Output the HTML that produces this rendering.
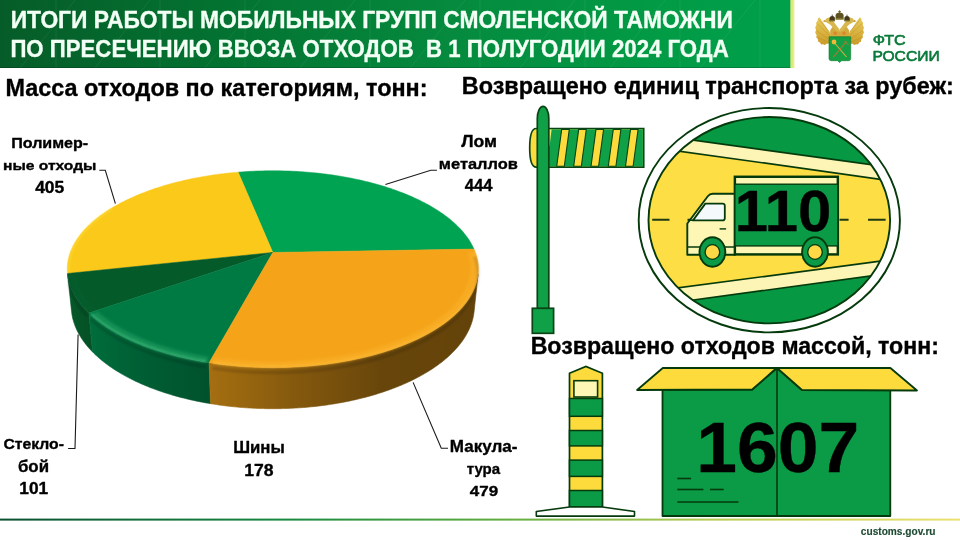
<!DOCTYPE html>
<html><head><meta charset="utf-8"><title>Итоги работы мобильных групп</title>
<style>html,body{margin:0;padding:0;background:#fff;width:960px;height:540px;overflow:hidden;} svg{display:block;} text{font-kerning:normal;}</style>
</head><body>
<svg width="960" height="540" viewBox="0 0 960 540">
<rect width="960" height="540" fill="#fff"/>

<defs>
 <linearGradient id="hdr" x1="0" y1="0" x2="1" y2="0">
  <stop offset="0" stop-color="#065c28"/><stop offset="0.253" stop-color="#037030"/><stop offset="0.57" stop-color="#058a3e"/><stop offset="0.82" stop-color="#029a45"/><stop offset="1" stop-color="#00a04b"/>
 </linearGradient>
 <linearGradient id="btm" x1="0" y1="0" x2="1" y2="0">
  <stop offset="0" stop-color="#0a5030"/><stop offset="0.3" stop-color="#178a40"/><stop offset="0.55" stop-color="#6ab040"/><stop offset="0.75" stop-color="#b8cc55"/><stop offset="1" stop-color="#ece070"/>
 </linearGradient>
</defs>
<rect x="0" y="0" width="790.7" height="68" fill="url(#hdr)"/>
<g stroke="#ffffff" stroke-opacity="0.07" stroke-width="1">
 <line x1="20" y1="68" x2="75" y2="0"/><line x1="95" y1="68" x2="150" y2="0"/><line x1="205" y1="68" x2="260" y2="0"/>
 <line x1="300" y1="68" x2="355" y2="0"/><line x1="410" y1="68" x2="465" y2="0"/><line x1="520" y1="68" x2="575" y2="0"/>
 <line x1="610" y1="68" x2="665" y2="0"/><line x1="700" y1="68" x2="755" y2="0"/>
 <line x1="56" y1="0" x2="56" y2="68"/><line x1="160" y1="0" x2="160" y2="68"/><line x1="245" y1="0" x2="245" y2="68"/>
 <line x1="370" y1="0" x2="370" y2="68"/><line x1="480" y1="0" x2="480" y2="68"/><line x1="585" y1="0" x2="585" y2="68"/><line x1="680" y1="0" x2="680" y2="68"/><line x1="760" y1="0" x2="760" y2="68"/>
</g>
<rect x="0" y="67" width="790.7" height="1" fill="#000" fill-opacity="0.18"/>
<rect x="790.5" y="0" width="2.4" height="68" fill="#d8ea6a"/><rect x="792.9" y="0" width="1.5" height="68" fill="#f3e68e"/>
<rect x="0" y="518.6" width="960" height="2" fill="url(#btm)"/>
<g><defs><linearGradient id="gold" x1="0" y1="0" x2="0" y2="1"><stop offset="0" stop-color="#e8cc60"/><stop offset="0.6" stop-color="#d8b03c"/><stop offset="1" stop-color="#c99a2a"/></linearGradient></defs><path d="M830.00,37.50 L830.30,30.00 L832.50,27.00 L835.80,27.80 L839.60,31.00 L843.40,27.80 L846.70,27.00 L848.90,30.00 L849.20,37.50 Z" fill="#d2aa3c"/><path d="M819.40,17.30 L818.04,18.13 L817.50,21.00 L816.25,22.36 L816.30,25.50 L815.24,27.14 L816.00,30.00 L815.20,32.43 L816.60,35.00 L816.25,37.56 L817.80,39.00 L818.30,41.67 L820.00,42.50 L821.24,44.42 L823.00,44.20 L824.82,45.10 L826.50,43.80 L828.58,43.66 L829.80,41.50 L831.00,37.00 L830.20,33.00 L826.50,27.50 L822.80,22.00 Z" fill="url(#gold)"/><line x1="829.0" y1="35" x2="817.5" y2="24" stroke="#b08420" stroke-width="0.6" stroke-opacity="0.6"/><line x1="828.0" y1="38.5" x2="816.8" y2="31" stroke="#b08420" stroke-width="0.6" stroke-opacity="0.6"/><line x1="826.5" y1="41.5" x2="818.0" y2="37.5" stroke="#b08420" stroke-width="0.6" stroke-opacity="0.6"/><line x1="829.5" y1="32" x2="819.0" y2="19.5" stroke="#b08420" stroke-width="0.6" stroke-opacity="0.6"/><path d="M824.80,21.60 L826.20,18.60 L829.00,17.40 L831.80,18.60 L833.60,21.50 L836.60,25.80 L839.60,29.50 L839.60,32.00 L836.50,31.00 L833.00,27.50 L830.00,24.50 L827.50,23.00 Z" fill="#d8b84e"/><path d="M822.80,21.20 L825.20,19.80 L825.60,22.20 Z" fill="#c79a30"/><path d="M829.50,21.2 L829.50,18.6 A2.7,2.6 0 0 1 834.90,18.6 L834.90,21.2 Z" fill="#43391a"/><rect x="831.80" y="14.6" width="0.8" height="1.8" fill="#43391a"/><rect x="829.50" y="20.2" width="5.4" height="0.9" fill="#8a7a30"/><path d="M859.80,17.30 L861.16,18.13 L861.70,21.00 L862.95,22.36 L862.90,25.50 L863.96,27.14 L863.20,30.00 L864.00,32.43 L862.60,35.00 L862.95,37.56 L861.40,39.00 L860.90,41.67 L859.20,42.50 L857.96,44.42 L856.20,44.20 L854.38,45.10 L852.70,43.80 L850.62,43.66 L849.40,41.50 L848.20,37.00 L849.00,33.00 L852.70,27.50 L856.40,22.00 Z" fill="url(#gold)"/><line x1="850.2" y1="35" x2="861.7" y2="24" stroke="#b08420" stroke-width="0.6" stroke-opacity="0.6"/><line x1="851.2" y1="38.5" x2="862.4" y2="31" stroke="#b08420" stroke-width="0.6" stroke-opacity="0.6"/><line x1="852.7" y1="41.5" x2="861.2" y2="37.5" stroke="#b08420" stroke-width="0.6" stroke-opacity="0.6"/><line x1="849.7" y1="32" x2="860.2" y2="19.5" stroke="#b08420" stroke-width="0.6" stroke-opacity="0.6"/><path d="M854.40,21.60 L853.00,18.60 L850.20,17.40 L847.40,18.60 L845.60,21.50 L842.60,25.80 L839.60,29.50 L839.60,32.00 L842.70,31.00 L846.20,27.50 L849.20,24.50 L851.70,23.00 Z" fill="#d8b84e"/><path d="M856.40,21.20 L854.00,19.80 L853.60,22.20 Z" fill="#c79a30"/><path d="M844.30,21.2 L844.30,18.6 A2.7,2.6 0 0 1 849.70,18.6 L849.70,21.2 Z" fill="#43391a"/><rect x="846.60" y="14.6" width="0.8" height="1.8" fill="#43391a"/><rect x="844.30" y="20.2" width="5.4" height="0.9" fill="#8a7a30"/><path d="M835.6,19.6 L835.6,15.6 C835.6,13.4 837.4,12.4 839.6,12.4 C841.8,12.4 843.6,13.4 843.6,15.6 L843.6,19.6 Z" fill="#5e5220"/><rect x="835.6" y="18.4" width="8" height="1.2" fill="#9a8a38"/><rect x="839.1" y="10.4" width="1" height="2.6" fill="#6a5e22"/><rect x="838.3" y="11.1" width="2.6" height="0.9" fill="#6a5e22"/><circle cx="835.2" cy="33.2" r="1.7" fill="#e0842c"/><circle cx="844" cy="33.2" r="1.7" fill="#e0842c"/><path d="M829,36.7 L850.7,36.7 L850.7,58.6 Q850.7,60.7 848.6,60.7 L841.5,60.7 L839.6,62.6 L837.7,60.7 L831.1,60.7 Q829,60.7 829,58.6 Z" fill="#14a043" stroke="#0d7a30" stroke-width="0.6"/><line x1="835" y1="43.5" x2="846.5" y2="57" stroke="#d8b048" stroke-width="1.1"/><line x1="846.5" y1="41.5" x2="833" y2="57.5" stroke="#b8743a" stroke-width="1.1"/><path d="M844.5,41 L848.5,45" stroke="#b8743a" stroke-width="1"/><circle cx="834" cy="42" r="2.4" fill="#f2b83a"/></g><polyline points="99.3,170.3 105.3,170.3 115.4,203.7" stroke="#1a1a1a" stroke-width="1.1" fill="none" stroke-linejoin="miter"/><polyline points="385.4,184.4 430.8,170.2 436.9,170.2" stroke="#1a1a1a" stroke-width="1.1" fill="none" stroke-linejoin="miter"/><polyline points="78.1,334.6 75,448.5 68.1,448.5" stroke="#1a1a1a" stroke-width="1.1" fill="none" stroke-linejoin="miter"/><polyline points="413.1,382.4 441.3,448.3 448,448.3" stroke="#1a1a1a" stroke-width="1.1" fill="none" stroke-linejoin="miter"/><defs><linearGradient id="side2" gradientUnits="userSpaceOnUse" x1="67.6" y1="0" x2="88.8" y2="0"><stop offset="0.000" stop-color="#055a2a"/><stop offset="0.024" stop-color="#055a2a"/><stop offset="0.061" stop-color="#05592a"/><stop offset="0.111" stop-color="#055829"/><stop offset="0.175" stop-color="#055829"/><stop offset="0.251" stop-color="#055728"/><stop offset="0.342" stop-color="#055628"/><stop offset="0.446" stop-color="#055528"/><stop offset="0.564" stop-color="#055427"/><stop offset="0.695" stop-color="#055327"/><stop offset="0.841" stop-color="#055226"/><stop offset="1.000" stop-color="#055126"/></linearGradient><linearGradient id="side3" gradientUnits="userSpaceOnUse" x1="88.8" y1="0" x2="209.1" y2="0"><stop offset="0.000" stop-color="#006e3c"/><stop offset="0.056" stop-color="#006b3b"/><stop offset="0.121" stop-color="#006939"/><stop offset="0.192" stop-color="#006638"/><stop offset="0.271" stop-color="#006337"/><stop offset="0.358" stop-color="#006135"/><stop offset="0.450" stop-color="#005e34"/><stop offset="0.550" stop-color="#005c32"/><stop offset="0.655" stop-color="#005931"/><stop offset="0.765" stop-color="#005730"/><stop offset="0.881" stop-color="#00542e"/><stop offset="1.000" stop-color="#00522d"/></linearGradient><linearGradient id="side4" gradientUnits="userSpaceOnUse" x1="209.1" y1="0" x2="478.1" y2="0"><stop offset="0.000" stop-color="#a56e11"/><stop offset="0.129" stop-color="#98660f"/><stop offset="0.262" stop-color="#8a5d0e"/><stop offset="0.394" stop-color="#7e540d"/><stop offset="0.521" stop-color="#734d0c"/><stop offset="0.638" stop-color="#68460b"/><stop offset="0.742" stop-color="#66450a"/><stop offset="0.830" stop-color="#66440a"/><stop offset="0.900" stop-color="#65440a"/><stop offset="0.952" stop-color="#64430a"/><stop offset="0.985" stop-color="#64430a"/><stop offset="1.000" stop-color="#64430a"/></linearGradient><filter id="blur1" x="-5%" y="-5%" width="110%" height="110%"><feGaussianBlur stdDeviation="0.9"/></filter><filter id="blur2" x="-5%" y="-5%" width="110%" height="110%"><feGaussianBlur stdDeviation="1.6"/></filter></defs><polygon points="67.60,274.13 67.71,275.02 67.83,275.91 67.96,276.80 68.11,277.69 68.29,278.58 68.47,279.47 68.68,280.37 68.90,281.26 69.14,282.15 69.40,283.05 69.67,283.94 69.96,284.84 70.27,285.73 70.60,286.62 70.95,287.52 71.31,288.41 71.69,289.30 72.09,290.20 72.51,291.09 72.94,291.98 73.39,292.87 73.87,293.76 74.35,294.65 74.86,295.54 75.39,296.43 75.93,297.31 76.49,298.20 77.07,299.08 77.67,299.97 78.28,300.85 78.92,301.73 79.57,302.61 80.24,303.48 80.93,304.36 81.64,305.23 82.36,306.10 83.11,306.97 83.87,307.83 84.65,308.70 85.45,309.56 86.27,310.42 87.10,311.27 87.96,312.13 88.83,312.98 92.60,352.00 91.74,351.11 90.90,350.23 90.07,349.34 89.27,348.44 88.48,347.54 87.71,346.65 86.96,345.74 86.22,344.84 85.51,343.93 84.81,343.03 84.13,342.11 83.46,341.20 82.82,340.29 82.19,339.37 81.58,338.45 80.99,337.53 80.42,336.61 79.86,335.69 79.32,334.77 78.80,333.84 78.30,332.92 77.82,331.99 77.35,331.06 76.90,330.13 76.47,329.20 76.05,328.27 75.66,327.34 75.28,326.41 74.92,325.48 74.57,324.55 74.24,323.62 73.94,322.68 73.64,321.75 73.37,320.82 73.11,319.89 72.87,318.96 72.64,318.02 72.44,317.09 72.25,316.16 72.07,315.23 71.92,314.30 71.78,313.37 71.66,312.45 71.55,311.52" fill="url(#side2)" stroke="url(#side2)" stroke-width="0.6"/><polygon points="88.83,312.98 89.72,313.82 90.63,314.67 91.55,315.50 92.50,316.34 93.46,317.17 94.44,318.00 95.43,318.83 96.45,319.65 97.48,320.47 98.53,321.29 99.60,322.10 100.69,322.91 101.80,323.71 102.92,324.51 104.06,325.30 105.22,326.09 106.39,326.88 107.59,327.66 108.80,328.44 110.02,329.21 111.27,329.97 112.53,330.73 113.81,331.49 115.11,332.24 116.42,332.99 117.75,333.73 119.10,334.46 120.47,335.19 121.85,335.92 123.25,336.63 124.66,337.35 126.09,338.05 127.54,338.75 129.00,339.45 130.48,340.13 131.97,340.81 133.48,341.49 135.01,342.16 136.55,342.82 138.11,343.47 139.68,344.12 141.27,344.76 142.87,345.39 144.49,346.02 146.12,346.63 147.77,347.25 149.43,347.85 151.10,348.45 152.79,349.03 154.49,349.61 156.21,350.19 157.94,350.75 159.69,351.31 161.44,351.86 163.21,352.40 165.00,352.93 166.79,353.46 168.60,353.97 170.42,354.48 172.25,354.98 174.10,355.47 175.96,355.95 177.82,356.42 179.70,356.88 181.59,357.34 183.49,357.78 185.41,358.22 187.33,358.65 189.26,359.07 191.21,359.47 193.16,359.87 195.12,360.26 197.09,360.64 199.08,361.01 201.07,361.37 203.07,361.73 205.07,362.07 207.09,362.40 209.11,362.72 210.52,403.69 208.54,403.35 206.57,403.01 204.60,402.66 202.65,402.29 200.70,401.92 198.76,401.53 196.83,401.14 194.91,400.73 193.00,400.32 191.10,399.90 189.21,399.46 187.32,399.02 185.45,398.57 183.59,398.10 181.74,397.63 179.90,397.15 178.07,396.66 176.26,396.16 174.45,395.65 172.65,395.14 170.87,394.61 169.10,394.07 167.34,393.53 165.60,392.98 163.86,392.42 162.14,391.85 160.43,391.27 158.74,390.68 157.06,390.09 155.39,389.48 153.73,388.87 152.09,388.25 150.47,387.63 148.85,386.99 147.25,386.35 145.67,385.70 144.10,385.04 142.54,384.38 141.00,383.71 139.47,383.03 137.96,382.34 136.47,381.65 134.98,380.95 133.52,380.24 132.07,379.52 130.63,378.80 129.21,378.08 127.81,377.34 126.42,376.60 125.05,375.86 123.70,375.11 122.36,374.35 121.03,373.58 119.73,372.81 118.44,372.04 117.16,371.26 115.91,370.47 114.67,369.68 113.44,368.88 112.24,368.08 111.05,367.27 109.88,366.46 108.72,365.64 107.58,364.82 106.46,364.00 105.36,363.17 104.27,362.33 103.20,361.49 102.15,360.65 101.12,359.80 100.10,358.95 99.10,358.09 98.12,357.23 97.15,356.37 96.21,355.50 95.28,354.63 94.37,353.76 93.48,352.88 92.60,352.00" fill="url(#side3)" stroke="url(#side3)" stroke-width="0.6"/><polygon points="209.11,362.72 211.13,363.03 213.15,363.33 215.18,363.62 217.22,363.90 219.27,364.17 221.32,364.43 223.37,364.68 225.44,364.92 227.51,365.15 229.58,365.37 231.66,365.57 233.74,365.77 235.83,365.96 237.93,366.14 240.03,366.31 242.13,366.47 244.24,366.61 246.35,366.75 248.46,366.88 250.57,366.99 252.69,367.10 254.81,367.19 256.94,367.28 259.06,367.35 261.19,367.41 263.32,367.46 265.45,367.51 267.58,367.54 269.71,367.56 271.84,367.57 273.97,367.57 276.10,367.56 278.24,367.54 280.37,367.50 282.50,367.46 284.62,367.41 286.75,367.34 288.88,367.27 291.00,367.18 293.12,367.09 295.24,366.98 297.36,366.87 299.47,366.74 301.58,366.60 303.68,366.45 305.79,366.30 307.88,366.13 309.98,365.95 312.07,365.76 314.15,365.56 316.23,365.35 318.30,365.13 320.37,364.90 322.44,364.66 324.49,364.41 326.54,364.15 328.59,363.88 330.62,363.60 332.65,363.31 334.68,363.01 336.69,362.70 338.70,362.38 340.70,362.05 342.69,361.71 344.68,361.36 346.65,361.00 348.62,360.63 350.57,360.26 352.52,359.87 354.46,359.47 356.39,359.07 358.30,358.65 360.21,358.23 362.11,357.80 364.00,357.36 365.87,356.90 367.74,356.45 369.59,355.98 371.43,355.50 373.27,355.01 375.09,354.52 376.89,354.02 378.69,353.51 380.47,352.99 382.24,352.46 384.00,351.93 385.74,351.38 387.48,350.83 389.20,350.27 390.90,349.70 392.59,349.13 394.27,348.55 395.94,347.96 397.59,347.36 399.22,346.75 400.84,346.14 402.45,345.52 404.05,344.90 405.62,344.26 407.19,343.62 408.74,342.97 410.27,342.32 411.79,341.66 413.29,340.99 414.78,340.32 416.25,339.64 417.70,338.95 419.14,338.26 420.57,337.56 421.98,336.86 423.37,336.15 424.74,335.43 426.10,334.71 427.45,333.98 428.77,333.25 430.08,332.51 431.38,331.77 432.65,331.02 433.91,330.26 435.15,329.51 436.38,328.74 437.59,327.97 438.78,327.20 439.95,326.42 441.11,325.64 442.25,324.85 443.37,324.06 444.47,323.27 445.56,322.47 446.63,321.67 447.68,320.86 448.71,320.05 449.73,319.23 450.73,318.42 451.71,317.59 452.67,316.77 453.62,315.94 454.55,315.11 455.45,314.28 456.35,313.44 457.22,312.60 458.08,311.75 458.91,310.91 459.73,310.06 460.53,309.21 461.32,308.36 462.08,307.50 462.83,306.64 463.56,305.78 464.27,304.92 464.97,304.05 465.64,303.19 466.30,302.32 466.94,301.45 467.57,300.58 468.17,299.71 468.76,298.83 469.32,297.96 469.88,297.08 470.41,296.20 470.92,295.32 471.42,294.44 471.90,293.56 472.36,292.68 472.81,291.80 473.23,290.92 473.64,290.03 474.04,289.15 474.41,288.27 474.77,287.38 475.11,286.50 475.43,285.61 475.73,284.73 476.02,283.84 476.29,282.96 476.54,282.07 476.78,281.19 477.00,280.30 477.20,279.42 477.38,278.54 477.55,277.65 477.70,276.77 477.84,275.89 477.96,275.01 478.06,274.13 474.11,311.52 474.01,312.44 473.88,313.36 473.75,314.27 473.59,315.19 473.42,316.12 473.23,317.04 473.03,317.96 472.81,318.88 472.57,319.80 472.32,320.73 472.05,321.65 471.76,322.57 471.46,323.49 471.14,324.42 470.80,325.34 470.44,326.26 470.07,327.18 469.68,328.10 469.27,329.02 468.85,329.94 468.41,330.86 467.95,331.78 467.47,332.70 466.98,333.62 466.47,334.53 465.94,335.45 465.40,336.36 464.83,337.27 464.25,338.18 463.65,339.09 463.04,340.00 462.41,340.91 461.76,341.81 461.09,342.71 460.40,343.61 459.70,344.51 458.98,345.41 458.24,346.30 457.49,347.19 456.71,348.08 455.92,348.96 455.11,349.85 454.29,350.73 453.45,351.61 452.59,352.48 451.71,353.35 450.81,354.22 449.90,355.09 448.97,355.95 448.02,356.81 447.05,357.66 446.07,358.51 445.07,359.36 444.06,360.20 443.02,361.04 441.97,361.88 440.90,362.71 439.82,363.53 438.71,364.36 437.59,365.17 436.46,365.99 435.30,366.80 434.13,367.60 432.95,368.40 431.74,369.19 430.52,369.98 429.29,370.77 428.03,371.54 426.76,372.32 425.48,373.08 424.18,373.85 422.86,374.60 421.52,375.35 420.17,376.10 418.81,376.83 417.43,377.57 416.03,378.29 414.62,379.01 413.19,379.72 411.75,380.43 410.29,381.13 408.81,381.82 407.32,382.51 405.82,383.19 404.30,383.86 402.77,384.53 401.22,385.19 399.66,385.84 398.09,386.48 396.50,387.12 394.89,387.74 393.28,388.36 391.65,388.98 390.00,389.58 388.34,390.18 386.67,390.77 384.99,391.35 383.29,391.92 381.58,392.49 379.86,393.04 378.13,393.59 376.38,394.13 374.62,394.66 372.85,395.18 371.07,395.69 369.28,396.20 367.48,396.69 365.66,397.18 363.84,397.65 362.00,398.12 360.15,398.58 358.29,399.03 356.43,399.47 354.55,399.90 352.66,400.32 350.77,400.73 348.86,401.13 346.95,401.52 345.02,401.90 343.09,402.28 341.15,402.64 339.20,402.99 337.25,403.33 335.28,403.66 333.31,403.99 331.33,404.30 329.35,404.60 327.35,404.89 325.36,405.17 323.35,405.44 321.34,405.70 319.32,405.95 317.30,406.19 315.27,406.42 313.24,406.63 311.20,406.84 309.15,407.04 307.11,407.22 305.05,407.40 303.00,407.56 300.94,407.72 298.88,407.86 296.81,407.99 294.74,408.11 292.67,408.22 290.60,408.32 288.52,408.41 286.44,408.48 284.36,408.55 282.28,408.61 280.20,408.65 278.12,408.68 276.03,408.71 273.95,408.72 271.86,408.72 269.78,408.71 267.70,408.69 265.61,408.65 263.53,408.61 261.45,408.55 259.37,408.49 257.29,408.41 255.21,408.33 253.14,408.23 251.07,408.12 249.00,408.00 246.93,407.87 244.87,407.73 242.81,407.57 240.75,407.41 238.70,407.24 236.66,407.05 234.61,406.86 232.57,406.65 230.54,406.43 228.51,406.21 226.49,405.97 224.47,405.72 222.46,405.46 220.45,405.19 218.45,404.91 216.46,404.62 214.47,404.32 212.49,404.01 210.52,403.69" fill="url(#side4)" stroke="url(#side4)" stroke-width="0.6"/><polygon points="272.83,252.47 473.99,249.07 473.24,247.42 472.44,245.79 471.57,244.16 470.66,242.55 469.69,240.94 468.66,239.35 467.59,237.78 466.46,236.21 465.28,234.67 464.05,233.13 462.77,231.61 461.44,230.10 460.06,228.61 458.63,227.14 457.16,225.67 455.65,224.23 454.08,222.80 452.48,221.39 450.82,219.99 449.13,218.61 447.40,217.25 445.62,215.90 443.80,214.57 441.94,213.26 440.05,211.97 438.11,210.69 436.14,209.44 434.13,208.20 432.09,206.98 430.01,205.77 427.89,204.59 425.74,203.43 423.56,202.28 421.35,201.15 419.10,200.05 416.82,198.96 414.51,197.89 412.18,196.84 409.81,195.81 407.42,194.80 404.99,193.81 402.54,192.84 400.07,191.89 397.57,190.96 395.04,190.05 392.49,189.16 389.92,188.29 387.32,187.45 384.70,186.62 382.06,185.81 379.40,185.02 376.71,184.26 374.01,183.51 371.29,182.79 368.55,182.09 365.79,181.40 363.01,180.74 360.22,180.10 357.41,179.48 354.59,178.88 351.75,178.30 348.89,177.75 346.02,177.21 343.14,176.70 340.25,176.20 337.34,175.73 334.42,175.28 331.49,174.85 328.55,174.44 325.61,174.06 322.65,173.69 319.68,173.35 316.70,173.03 313.72,172.73 310.73,172.45 307.73,172.19 304.73,171.95 301.72,171.73 298.70,171.54 295.68,171.37 292.66,171.22 289.63,171.09 286.61,170.98 283.57,170.89 280.54,170.83 277.51,170.78 274.47,170.76 271.43,170.76 268.40,170.78 265.36,170.82 262.33,170.89 259.30,170.97 256.27,171.08 253.24,171.21 250.22,171.36 247.20,171.53 244.18,171.72 241.17,171.93 238.17,172.17" fill="#00a351" stroke="#00a351" stroke-width="0.5" stroke-linejoin="round"/><polygon points="272.83,252.47 238.17,172.17 235.16,172.42 232.16,172.70 229.17,173.00 226.18,173.33 223.20,173.67 220.23,174.04 217.27,174.42 214.32,174.83 211.38,175.26 208.45,175.71 205.54,176.18 202.63,176.68 199.74,177.19 196.86,177.73 194.00,178.29 191.15,178.87 188.31,179.47 185.49,180.09 182.69,180.73 179.91,181.39 177.14,182.08 174.39,182.78 171.66,183.51 168.94,184.26 166.25,185.03 163.58,185.82 160.93,186.63 158.30,187.46 155.70,188.31 153.11,189.18 150.56,190.07 148.02,190.99 145.51,191.92 143.03,192.88 140.57,193.85 138.14,194.84 135.74,195.86 133.37,196.89 131.03,197.94 128.71,199.02 126.43,200.11 124.18,201.22 121.96,202.36 119.77,203.51 117.61,204.68 115.49,205.87 113.41,207.07 111.36,208.30 109.35,209.54 107.37,210.81 105.44,212.09 103.54,213.39 101.68,214.71 99.86,216.04 98.08,217.39 96.34,218.76 94.65,220.15 93.00,221.55 91.39,222.97 89.83,224.41 88.31,225.86 86.84,227.33 85.42,228.81 84.04,230.31 82.71,231.82 81.43,233.35 80.21,234.89 79.03,236.45 77.91,238.02 76.83,239.60 75.81,241.20 74.85,242.81 73.94,244.43 73.08,246.06 72.28,247.71 71.54,249.37 70.86,251.03 70.23,252.71 69.67,254.40 69.16,256.10 68.72,257.80 68.33,259.52 68.01,261.24 67.75,262.97 67.55,264.71 67.42,266.46 67.35,268.21 67.35,269.96 67.41,271.73 67.54,273.49" fill="#fac91a" stroke="#fac91a" stroke-width="0.5" stroke-linejoin="round"/><polygon points="272.83,252.47 67.54,273.49 67.74,275.30 68.01,277.11 68.35,278.92 68.77,280.73 69.25,282.55 69.81,284.37 70.44,286.18 71.14,288.00 71.92,289.82 72.77,291.63 73.69,293.44 74.69,295.25 75.77,297.05 76.92,298.85 78.14,300.65 79.44,302.43 80.82,304.21 82.27,305.98 83.80,307.75 85.40,309.50 87.08,311.24 88.83,312.98" fill="#055a2a" stroke="#055a2a" stroke-width="0.5" stroke-linejoin="round"/><polygon points="272.83,252.47 88.83,312.98 90.65,314.69 92.54,316.38 94.51,318.07 96.55,319.74 98.67,321.39 100.86,323.03 103.12,324.65 105.46,326.25 107.86,327.84 110.34,329.40 112.89,330.95 115.51,332.47 118.20,333.97 120.96,335.45 123.79,336.91 126.68,338.34 129.64,339.75 132.67,341.13 135.76,342.48 138.91,343.80 142.13,345.10 145.41,346.37 148.74,347.60 152.14,348.81 155.59,349.98 159.10,351.12 162.67,352.23 166.28,353.31 169.95,354.35 173.67,355.35 177.44,356.32 181.25,357.26 185.11,358.15 189.01,359.01 192.96,359.83 196.94,360.61 200.96,361.36 205.02,362.06 209.11,362.72" fill="#007a43" stroke="#007a43" stroke-width="0.5" stroke-linejoin="round"/><polygon points="272.83,252.47 209.11,362.72 213.16,363.33 217.23,363.90 221.33,364.43 225.46,364.92 229.61,365.37 233.78,365.78 237.96,366.14 242.17,366.47 246.39,366.75 250.63,366.99 254.87,367.19 259.13,367.35 263.39,367.47 267.65,367.54 271.92,367.57 276.19,367.56 280.46,367.50 284.72,367.41 288.98,367.27 293.23,367.08 297.46,366.86 301.69,366.59 305.90,366.29 310.10,365.94 314.28,365.55 318.44,365.12 322.57,364.64 326.68,364.13 330.77,363.58 334.83,362.98 338.85,362.35 342.85,361.68 346.81,360.97 350.74,360.22 354.62,359.44 358.47,358.62 362.28,357.76 366.05,356.86 369.77,355.93 373.45,354.97 377.07,353.97 380.65,352.93 384.18,351.87 387.66,350.77 391.09,349.64 394.46,348.48 397.78,347.29 401.04,346.07 404.24,344.82 407.38,343.54 410.46,342.24 413.48,340.91 416.44,339.55 419.33,338.17 422.17,336.76 424.93,335.33 427.63,333.88 430.27,332.40 432.84,330.91 435.34,329.39 437.77,327.86 440.13,326.30 442.42,324.73 444.65,323.14 446.80,321.54 448.88,319.92 450.89,318.28 452.83,316.63 454.70,314.97 456.50,313.29 458.22,311.61 459.88,309.91 461.46,308.20 462.97,306.48 464.40,304.76 465.77,303.03 467.06,301.29 468.28,299.54 469.43,297.79 470.51,296.03 471.52,294.27 472.45,292.50 473.32,290.74 474.11,288.97 474.84,287.20 475.49,285.42 476.08,283.65 476.60,281.88 477.04,280.11 477.42,278.34 477.73,276.58 477.98,274.81 478.16,273.05 478.27,271.30 478.32,269.54 478.30,267.80 478.22,266.06 478.07,264.32 477.86,262.60 477.59,260.88 477.25,259.16 476.86,257.46 476.40,255.76 475.89,254.08 475.31,252.40 474.68,250.73 473.99,249.07" fill="#f5a419" stroke="#f5a419" stroke-width="0.5" stroke-linejoin="round"/><polyline points="73.02,274.31 73.26,275.95 73.56,277.59 73.93,279.23 74.35,280.87 74.83,282.51 75.38,284.15 75.98,285.79 76.65,287.43 77.38,289.07 78.17,290.71 79.02,292.34 79.94,293.98 80.92,295.61 81.96,297.23 83.06,298.85 84.23,300.46 85.46,302.07 86.76,303.67 88.11,305.27 89.54,306.85 91.02,308.43 92.57,310.00" fill="none" stroke="#1f7a44" stroke-width="4" stroke-opacity="0.07" filter="url(#blur2)"/><polyline points="68.97,274.76 69.21,276.43 69.50,278.10 69.86,279.77 70.28,281.45 70.77,283.13 71.31,284.80 71.92,286.48 72.59,288.16 73.32,289.83 74.11,291.51 74.97,293.18 75.90,294.85 76.89,296.51 77.94,298.17 79.06,299.83 80.24,301.48 81.48,303.13 82.79,304.76 84.17,306.39 85.61,308.02 87.12,309.63 88.69,311.24" fill="none" stroke="#1f7a44" stroke-width="1.8" stroke-opacity="0.2" filter="url(#blur1)"/><polyline points="68.17,279.46 68.41,281.15 68.71,282.85 69.06,284.54 69.48,286.24 69.96,287.93 70.51,289.63 71.11,291.33 71.78,293.03 72.52,294.72 73.32,296.42 74.18,298.11 75.10,299.80 76.09,301.48 77.15,303.16 78.27,304.84 79.45,306.51 80.70,308.18 82.01,309.84 83.39,311.49 84.84,313.13 86.35,314.77 87.92,316.39" fill="none" stroke="#000" stroke-width="3" stroke-opacity="0.15" filter="url(#blur1)"/><polyline points="95.30,312.60 97.06,314.19 98.89,315.76 100.79,317.31 102.75,318.86 104.78,320.39 106.87,321.90 109.03,323.40 111.25,324.88 113.54,326.35 115.88,327.80 118.30,329.23 120.77,330.64 123.31,332.03 125.90,333.40 128.56,334.74 131.28,336.07 134.05,337.37 136.89,338.65 139.78,339.90 142.73,341.13 145.73,342.34 148.79,343.52 151.90,344.67 155.06,345.79 158.27,346.89 161.53,347.95 164.85,348.99 168.21,350.00 171.61,350.98 175.06,351.92 178.56,352.84 182.09,353.72 185.67,354.57 189.28,355.38 192.94,356.16 196.63,356.91 200.35,357.62 204.11,358.30 207.90,358.94" fill="none" stroke="#46c07e" stroke-width="4" stroke-opacity="0.35" filter="url(#blur2)"/><polyline points="91.46,313.90 93.26,315.52 95.12,317.13 97.04,318.73 99.04,320.31 101.10,321.88 103.23,323.43 105.43,324.96 107.69,326.48 110.01,327.98 112.41,329.47 114.87,330.93 117.39,332.38 119.97,333.80 122.62,335.20 125.33,336.59 128.10,337.94 130.93,339.28 133.82,340.59 136.77,341.88 139.78,343.14 142.85,344.38 145.97,345.58 149.14,346.77 152.37,347.92 155.66,349.04 158.99,350.14 162.37,351.20 165.81,352.24 169.29,353.24 172.81,354.21 176.38,355.15 180.00,356.05 183.66,356.92 187.35,357.76 191.09,358.56 194.86,359.33 198.67,360.06 202.51,360.76 206.39,361.42" fill="none" stroke="#46c07e" stroke-width="1.8" stroke-opacity="0.95" filter="url(#blur1)"/><polyline points="90.71,319.09 92.50,320.73 94.37,322.36 96.30,323.97 98.30,325.58 100.37,327.16 102.51,328.73 104.71,330.29 106.98,331.83 109.32,333.35 111.72,334.85 114.19,336.33 116.72,337.80 119.31,339.24 121.97,340.66 124.69,342.06 127.47,343.44 130.32,344.79 133.22,346.12 136.18,347.42 139.20,348.70 142.28,349.95 145.41,351.17 148.60,352.37 151.84,353.54 155.14,354.68 158.49,355.79 161.88,356.87 165.33,357.91 168.83,358.93 172.37,359.91 175.95,360.86 179.58,361.78 183.26,362.66 186.97,363.51 190.72,364.32 194.51,365.10 198.34,365.84 202.20,366.55 206.09,367.22" fill="none" stroke="#000" stroke-width="3" stroke-opacity="0.15" filter="url(#blur1)"/><polyline points="214.14,359.91 218.02,360.46 221.94,360.98 225.87,361.45 229.83,361.89 233.81,362.28 237.81,362.64 241.82,362.97 245.85,363.25 249.89,363.49 253.94,363.69 258.00,363.86 262.06,363.98 266.14,364.07 270.21,364.11 274.29,364.12 278.36,364.09 282.44,364.01 286.51,363.90 290.57,363.75 294.62,363.55 298.67,363.32 302.70,363.05 306.72,362.74 310.72,362.39 314.70,362.00 318.66,361.58 322.61,361.11 326.53,360.61 330.42,360.07 334.29,359.50 338.13,358.88 341.93,358.23 345.71,357.55 349.45,356.83 353.16,356.07 356.83,355.28 360.47,354.46 364.06,353.60 367.61,352.71 371.12,351.78 374.58,350.83 378.00,349.84 381.37,348.82 384.70,347.77 387.97,346.69 391.19,345.59 394.37,344.45 397.48,343.29 400.55,342.10 403.56,340.88 406.51,339.64 409.41,338.37 412.24,337.08 415.02,335.76 417.74,334.42 420.40,333.06 423.00,331.68 425.53,330.27 428.01,328.85 430.42,327.41 432.76,325.95 435.04,324.47 437.26,322.97 439.41,321.46 441.50,319.93 443.52,318.39 445.47,316.83 447.36,315.26 449.18,313.68 450.93,312.08 452.61,310.47 454.23,308.85 455.78,307.23 457.26,305.59 458.68,303.94 460.02,302.29 461.30,300.63 462.52,298.96 463.66,297.29 464.74,295.61 465.75,293.93 466.69,292.24 467.57,290.55 468.38,288.86 469.12,287.17 469.80,285.47 470.41,283.78 470.96,282.08 471.44,280.39 471.86,278.69 472.21,277.00 472.50,275.31 472.73,273.62 472.89,271.93 472.99,270.25 473.03,268.58 473.01,266.90 472.93,265.24 472.79,263.57 472.59,261.92 472.33,260.27 472.01,258.63 471.63,257.00 471.20,255.37 470.71,253.75 470.16,252.14" fill="none" stroke="#ffc040" stroke-width="4" stroke-opacity="0.30" filter="url(#blur2)"/><polyline points="212.77,362.42 216.75,362.98 220.75,363.51 224.78,363.99 228.83,364.44 232.90,364.85 236.99,365.22 241.09,365.55 245.21,365.84 249.35,366.09 253.50,366.30 257.65,366.47 261.81,366.60 265.98,366.68 270.15,366.73 274.32,366.74 278.49,366.70 282.66,366.63 286.83,366.51 290.98,366.35 295.13,366.15 299.27,365.92 303.40,365.64 307.51,365.32 311.60,364.96 315.68,364.56 319.73,364.13 323.77,363.65 327.78,363.13 331.76,362.58 335.72,361.99 339.64,361.36 343.54,360.69 347.40,359.99 351.23,359.25 355.02,358.47 358.78,357.66 362.49,356.81 366.16,355.93 369.79,355.01 373.38,354.07 376.92,353.08 380.41,352.07 383.86,351.03 387.25,349.95 390.60,348.84 393.89,347.71 397.13,346.54 400.31,345.35 403.44,344.13 406.51,342.88 409.53,341.60 412.48,340.30 415.38,338.98 418.21,337.63 420.99,336.26 423.70,334.86 426.35,333.44 428.93,332.00 431.45,330.55 433.91,329.07 436.29,327.57 438.62,326.05 440.87,324.52 443.06,322.97 445.19,321.41 447.24,319.83 449.23,318.23 451.14,316.62 452.99,315.00 454.77,313.37 456.48,311.72 458.13,310.07 459.70,308.40 461.20,306.72 462.64,305.04 464.00,303.35 465.30,301.65 466.52,299.95 467.68,298.23 468.77,296.52 469.79,294.80 470.74,293.07 471.62,291.35 472.44,289.62 473.19,287.89 473.87,286.16 474.48,284.42 475.03,282.69 475.51,280.96 475.92,279.23 476.27,277.50 476.55,275.77 476.77,274.05 476.93,272.33 477.02,270.61 477.05,268.90 477.02,267.19 476.92,265.49 476.76,263.80 476.55,262.11 476.27,260.43 475.93,258.75 475.54,257.09 475.08,255.43 474.57,253.78 474.01,252.14" fill="none" stroke="#ffc040" stroke-width="1.8" stroke-opacity="0.8" filter="url(#blur1)"/><polyline points="212.50,368.23 216.49,368.80 220.51,369.33 224.56,369.82 228.63,370.28 232.72,370.69 236.82,371.07 240.95,371.40 245.09,371.70 249.24,371.95 253.41,372.16 257.58,372.33 261.76,372.46 265.95,372.55 270.14,372.60 274.33,372.60 278.52,372.57 282.71,372.49 286.89,372.37 291.07,372.21 295.23,372.01 299.39,371.77 303.54,371.49 307.66,371.17 311.78,370.80 315.87,370.40 319.95,369.96 324.00,369.48 328.03,368.95 332.03,368.39 336.00,367.79 339.94,367.15 343.86,366.48 347.74,365.77 351.58,365.02 355.39,364.23 359.16,363.41 362.89,362.55 366.58,361.66 370.22,360.73 373.83,359.77 377.38,358.77 380.89,357.75 384.35,356.69 387.76,355.60 391.12,354.48 394.42,353.32 397.68,352.14 400.87,350.93 404.01,349.70 407.10,348.43 410.12,347.14 413.09,345.82 416.00,344.48 418.84,343.12 421.63,341.73 424.35,340.31 427.01,338.88 429.60,337.42 432.13,335.94 434.59,334.45 436.99,332.93 439.32,331.39 441.59,329.84 443.78,328.27 445.91,326.69 447.98,325.09 449.97,323.47 451.89,321.84 453.75,320.20 455.53,318.55 457.25,316.88 458.89,315.20 460.47,313.52 461.98,311.82 463.42,310.12 464.79,308.40 466.08,306.69 467.31,304.96 468.47,303.23 469.56,301.49 470.59,299.75 471.54,298.00 472.42,296.26 473.24,294.51 473.99,292.75 474.67,291.00 475.28,289.25 475.83,287.49 476.31,285.74 476.72,283.99 477.07,282.24 477.35,280.49 477.57,278.75 477.72,277.01 477.81,275.27 477.84,273.54 477.80,271.81 477.71,270.09 477.55,268.37 477.33,266.66 477.05,264.96 476.71,263.27 476.31,261.58 475.85,259.91 475.33,258.24 474.76,256.58" fill="none" stroke="#000" stroke-width="3" stroke-opacity="0.15" filter="url(#blur1)"/><polyline points="112.06,208.66 109.96,209.97 107.89,211.30 105.87,212.65 103.90,214.02 101.97,215.40 100.08,216.81 98.24,218.24 96.44,219.68 94.69,221.14 92.99,222.62 91.34,224.12 89.74,225.64 88.19,227.18 86.70,228.73 85.25,230.30 83.86,231.88 82.52,233.48 81.24,235.10 80.02,236.74 78.85,238.38 77.74,240.05 76.69,241.72 75.70,243.41 74.77,245.12 73.91,246.84 73.10,248.57 72.36,250.31 71.68,252.06 71.07,253.83 70.53,255.60 70.05,257.39 69.63,259.18 69.29,260.99 69.02,262.80 68.81,264.62 68.68,266.45 68.62,268.28 68.63,270.12 68.71,271.97" fill="none" stroke="#ffe040" stroke-width="1.6" stroke-opacity="0.7" filter="url(#blur1)"/><path d="M537,128.5 L643.7,128.5 L643.7,167.2 L537,167.2 L536.2,167.2 C531.2,167.2 529.7,157.5 529.7,147.85 C529.7,138.2 531.2,128.5 536.2,128.5 Z" fill="#fddb3c" stroke="#0a4414" stroke-width="1.7"/><rect x="548" y="129.3" width="94.9" height="37.1" fill="#10a048"/><polygon points="561.7,129.4 569.3,129.4 564.3,166.3 556.7,166.3" fill="#fddb3c" stroke="#0a4414" stroke-width="1.1"/><polygon points="578.7,129.4 586.3,129.4 581.3,166.3 573.7,166.3" fill="#fddb3c" stroke="#0a4414" stroke-width="1.1"/><polygon points="596.0,129.4 603.6,129.4 598.6,166.3 591.0,166.3" fill="#fddb3c" stroke="#0a4414" stroke-width="1.1"/><polygon points="613.3,129.4 620.9,129.4 615.9,166.3 608.3,166.3" fill="#fddb3c" stroke="#0a4414" stroke-width="1.1"/><polygon points="630.5,129.4 638.1,129.4 633.1,166.3 625.5,166.3" fill="#fddb3c" stroke="#0a4414" stroke-width="1.1"/><polygon points="549,129.4 551.6,129.4 549.6,146 549,146" fill="#e8f070"/><path d="M537.3,308.5 L537.3,118.5 A5.75,12.2 0 0 1 548.8,118.5 L548.8,308.5 Z" fill="#10a048" stroke="#0a4414" stroke-width="1.7"/><rect x="532.3" y="308.3" width="21.3" height="25" fill="#10a048" stroke="#0a4414" stroke-width="1.7"/><ellipse cx="769.3" cy="220.2" rx="130.6" ry="112.2" fill="#fff" stroke="#053a0c" stroke-width="1.9"/><clipPath id="inner"><ellipse cx="769.3" cy="220.2" rx="120.8" ry="103.2"/></clipPath><g clip-path="url(#inner)"><rect x="640" y="110" width="260" height="220" fill="#069842"/><polygon points="640,132.8 900,168.5 900,272.0 640,307.3" fill="#fdf5b5"/><polygon points="640,145.7 900,182.1 900,258.6 640,292.9" fill="#fede45"/><line x1="640" y1="132.77" x2="900" y2="168.52" stroke="#053a0c" stroke-width="1.7"/><line x1="640" y1="145.65" x2="900" y2="182.05" stroke="#053a0c" stroke-width="1.7"/><line x1="640" y1="292.88" x2="900" y2="258.56" stroke="#053a0c" stroke-width="1.7"/><line x1="640" y1="307.28" x2="900" y2="272.05" stroke="#053a0c" stroke-width="1.7"/><line x1="652.2" y1="219.7" x2="669.5" y2="219.7" stroke="#1e3a12" stroke-width="1.9"/><line x1="687.5" y1="219.7" x2="692" y2="219.7" stroke="#1e3a12" stroke-width="1.9"/><line x1="839.5" y1="219.7" x2="848.6" y2="219.7" stroke="#1e3a12" stroke-width="1.9"/><line x1="868" y1="219.7" x2="885.6" y2="219.7" stroke="#1e3a12" stroke-width="1.9"/></g><ellipse cx="769.3" cy="220.2" rx="120.8" ry="103.2" fill="none" stroke="#053a0c" stroke-width="1.9"/><path d="M687.3,254.8 L687.3,223.5 L689.2,221 L707.8,196.3 Q709.7,193.8 712.7,193.8 L735,193.8 L735,254.8 Z" fill="#fdf6b4" stroke="#053a0c" stroke-width="1.9" stroke-linejoin="round"/><path d="M693,220.4 L705.3,203.6 L722.6,203.6 Q724.8,203.6 724.8,205.8 L724.8,218.2 Q724.8,220.4 722.6,220.4 Z" fill="#f4f9fb" stroke="#053a0c" stroke-width="1.8" stroke-linejoin="round"/><line x1="688.3" y1="220.2" x2="693" y2="220.2" stroke="#053a0c" stroke-width="1.5"/><line x1="719.6" y1="228.9" x2="726.1" y2="228.9" stroke="#053a0c" stroke-width="1.4"/><line x1="687.3" y1="247" x2="735" y2="247" stroke="#053a0c" stroke-width="1.3"/><rect x="734.6" y="176.5" width="103.5" height="78.2" fill="#0b9a45" stroke="#053a0c" stroke-width="1.9"/><rect x="735.4" y="177.3" width="101.9" height="6.9" fill="#fdf6b4" stroke="#053a0c" stroke-width="1.4"/><rect x="735.4" y="245.9" width="101.9" height="8" fill="#fdf6b4" stroke="#053a0c" stroke-width="1.4"/><ellipse cx="712.4" cy="252" rx="12.9" ry="14.8" fill="#0b9a48" stroke="#053a0c" stroke-width="1.9"/><circle cx="712.4" cy="252" r="7.3" fill="#fed845" stroke="#053a0c" stroke-width="1.3"/><ellipse cx="815" cy="252" rx="12.9" ry="14.8" fill="#0b9a48" stroke="#053a0c" stroke-width="1.9"/><circle cx="815" cy="252" r="7.3" fill="#fed845" stroke="#053a0c" stroke-width="1.3"/><polygon points="569.5,373.3 585.9,366.5 602.4,373.3 602.4,507 569.5,507" fill="#fddb3c" stroke="#053a0c" stroke-width="1.7"/><rect x="569.5" y="398.5" width="32.9" height="17.8" fill="#0b9a45" stroke="#053a0c" stroke-width="1.5"/><rect x="569.5" y="430.5" width="32.9" height="15.4" fill="#0b9a45" stroke="#053a0c" stroke-width="1.5"/><rect x="569.5" y="460.1" width="32.9" height="16.3" fill="#0b9a45" stroke="#053a0c" stroke-width="1.5"/><rect x="569.5" y="490.5" width="32.9" height="16.5" fill="#0b9a45" stroke="#053a0c" stroke-width="1.5"/><rect x="573.9" y="380.7" width="23.7" height="16.3" fill="#fdf6b4" stroke="#053a0c" stroke-width="1.6"/><polygon points="569.5,507 536.3,511.5 536.3,516.1 634.5,516.1 634.5,511.5 602.4,507" fill="#fff" stroke="#053a0c" stroke-width="1.6" stroke-linejoin="round"/><polygon points="662.5,389.5 752.2,389.5 777,368 802,390 890.3,390 890.3,516 662.5,516" fill="#0b9a45" stroke="#053a0c" stroke-width="1.8" stroke-linejoin="round"/><polygon points="662.8,368 776.6,368 752.2,389.5 637.1,390" fill="#fddb3c" stroke="#053a0c" stroke-width="1.8" stroke-linejoin="round"/><polygon points="777,368 890.4,368 917,390.5 802,390" fill="#fddb3c" stroke="#053a0c" stroke-width="1.8" stroke-linejoin="round"/><line x1="777" y1="368" x2="777" y2="516" stroke="#053a0c" stroke-width="1.6"/><line x1="677.3" y1="478.5" x2="691.1" y2="478.5" stroke="#053a0c" stroke-width="1.6"/><line x1="677.3" y1="489.5" x2="703.4" y2="489.5" stroke="#053a0c" stroke-width="1.6"/><line x1="709.9" y1="489.5" x2="723.7" y2="489.5" stroke="#053a0c" stroke-width="1.6"/><line x1="677.3" y1="502" x2="738.5" y2="502" stroke="#053a0c" stroke-width="1.6"/><g style="will-change:transform"><text transform="translate(10.65,27.72) scale(0.9689,1)" font-family="&quot;Liberation Sans&quot;, sans-serif" font-weight="bold" font-size="23.54" fill="#f2fff4" stroke="#f2fff4" stroke-width="0.35" stroke-linejoin="round" xml:space="preserve">ИТОГИ РАБОТЫ МОБИЛЬНЫХ ГРУПП СМОЛЕНСКОЙ ТАМОЖНИ</text><text transform="translate(10.39,56.73) scale(0.9497,1)" font-family="&quot;Liberation Sans&quot;, sans-serif" font-weight="bold" font-size="23.40" fill="#f2fff4" stroke="#f2fff4" stroke-width="0.35" stroke-linejoin="round" xml:space="preserve">ПО ПРЕСЕЧЕНИЮ ВВОЗА ОТХОДОВ  В 1 ПОЛУГОДИИ 2024 ГОДА</text><text transform="translate(5.46,95.58) scale(0.9970,1)" font-family="&quot;Liberation Sans&quot;, sans-serif" font-weight="bold" font-size="23.47" fill="#000" stroke="#000" stroke-width="0.35" stroke-linejoin="round" xml:space="preserve">Масса отходов по категориям, тонн:</text><text transform="translate(461.81,94.42) scale(1.0068,1)" font-family="&quot;Liberation Sans&quot;, sans-serif" font-weight="bold" font-size="23.25" fill="#000" stroke="#000" stroke-width="0.35" stroke-linejoin="round" xml:space="preserve">Возвращено единиц транспорта за рубеж:</text><text transform="translate(530.63,354.43) scale(0.9963,1)" font-family="&quot;Liberation Sans&quot;, sans-serif" font-weight="bold" font-size="23.25" fill="#000" stroke="#000" stroke-width="0.35" stroke-linejoin="round" xml:space="preserve">Возвращено отходов массой, тонн:</text><text transform="translate(11.17,147.62) scale(1.0825,1)" font-family="&quot;Liberation Sans&quot;, sans-serif" font-weight="bold" font-size="14.86" fill="#000" stroke="#000" stroke-width="0.35" stroke-linejoin="round" xml:space="preserve">Полимер-</text><text transform="translate(3.00,170.42) scale(1.1774,1)" font-family="&quot;Liberation Sans&quot;, sans-serif" font-weight="bold" font-size="13.27" fill="#000" stroke="#000" stroke-width="0.35" stroke-linejoin="round" xml:space="preserve">ные отходы</text><text transform="translate(35.17,193.42) scale(1.0895,1)" font-family="&quot;Liberation Sans&quot;, sans-serif" font-weight="bold" font-size="16.00" fill="#000" stroke="#000" stroke-width="0.35" stroke-linejoin="round" xml:space="preserve">405</text><text transform="translate(461.28,146.62) scale(1.0794,1)" font-family="&quot;Liberation Sans&quot;, sans-serif" font-weight="bold" font-size="16.28" fill="#000" stroke="#000" stroke-width="0.35" stroke-linejoin="round" xml:space="preserve">Лом</text><text transform="translate(438.85,169.22) scale(1.0583,1)" font-family="&quot;Liberation Sans&quot;, sans-serif" font-weight="bold" font-size="15.53" fill="#000" stroke="#000" stroke-width="0.35" stroke-linejoin="round" xml:space="preserve">металлов</text><text transform="translate(464.68,191.22) scale(1.0678,1)" font-family="&quot;Liberation Sans&quot;, sans-serif" font-weight="bold" font-size="15.57" fill="#000" stroke="#000" stroke-width="0.35" stroke-linejoin="round" xml:space="preserve">444</text><text transform="translate(3.48,449.43) scale(1.0686,1)" font-family="&quot;Liberation Sans&quot;, sans-serif" font-weight="bold" font-size="14.72" fill="#000" stroke="#000" stroke-width="0.35" stroke-linejoin="round" xml:space="preserve">Стекло-</text><text transform="translate(17.95,472.43) scale(1.0377,1)" font-family="&quot;Liberation Sans&quot;, sans-serif" font-weight="bold" font-size="16.27" fill="#000" stroke="#000" stroke-width="0.35" stroke-linejoin="round" xml:space="preserve">бой</text><text transform="translate(19.29,494.12) scale(1.1108,1)" font-family="&quot;Liberation Sans&quot;, sans-serif" font-weight="bold" font-size="15.57" fill="#000" stroke="#000" stroke-width="0.35" stroke-linejoin="round" xml:space="preserve">101</text><text transform="translate(233.23,452.82) scale(1.0398,1)" font-family="&quot;Liberation Sans&quot;, sans-serif" font-weight="bold" font-size="16.14" fill="#000" stroke="#000" stroke-width="0.35" stroke-linejoin="round" xml:space="preserve">Шины</text><text transform="translate(244.18,475.62) scale(1.0873,1)" font-family="&quot;Liberation Sans&quot;, sans-serif" font-weight="bold" font-size="16.14" fill="#000" stroke="#000" stroke-width="0.35" stroke-linejoin="round" xml:space="preserve">178</text><text transform="translate(449.81,451.72) scale(1.0555,1)" font-family="&quot;Liberation Sans&quot;, sans-serif" font-weight="bold" font-size="16.14" fill="#000" stroke="#000" stroke-width="0.35" stroke-linejoin="round" xml:space="preserve">Макула-</text><text transform="translate(466.64,474.02) scale(1.0188,1)" font-family="&quot;Liberation Sans&quot;, sans-serif" font-weight="bold" font-size="14.78" fill="#000" stroke="#000" stroke-width="0.35" stroke-linejoin="round" xml:space="preserve">тура</text><text transform="translate(469.78,496.02) scale(1.1553,1)" font-family="&quot;Liberation Sans&quot;, sans-serif" font-weight="bold" font-size="14.72" fill="#000" stroke="#000" stroke-width="0.35" stroke-linejoin="round" xml:space="preserve">479</text><text transform="translate(734.84,230.52) scale(1.0399,1)" font-family="&quot;Liberation Sans&quot;, sans-serif" font-weight="bold" font-size="57.53" fill="#000" stroke="#000" stroke-width="0.35" stroke-linejoin="round" xml:space="preserve">110</text><text transform="translate(696.30,471.62) scale(1.0314,1)" font-family="&quot;Liberation Sans&quot;, sans-serif" font-weight="bold" font-size="71.04" fill="#000" stroke="#000" stroke-width="0.35" stroke-linejoin="round" xml:space="preserve">1607</text><text transform="translate(872.84,45.40) scale(1.1676,1)" font-family="&quot;Liberation Sans&quot;, sans-serif" font-weight="normal" font-size="13.80" fill="#0a7a3a" stroke="#0a7a3a" stroke-width="0.6" stroke-linejoin="round" xml:space="preserve">ФТС</text><text transform="translate(872.38,60.95) scale(1.0723,1)" font-family="&quot;Liberation Sans&quot;, sans-serif" font-weight="normal" font-size="14.58" fill="#0a7a3a" stroke="#0a7a3a" stroke-width="0.6" stroke-linejoin="round" xml:space="preserve">РОССИИ</text><text transform="translate(860.86,534.57) scale(0.9941,1)" font-family="&quot;Liberation Sans&quot;, sans-serif" font-weight="bold" font-size="10.21" fill="#1e4a32" stroke="#1e4a32" stroke-width="0.15" stroke-linejoin="round" xml:space="preserve">customs.gov.ru</text></g>
</svg>
</body></html>
